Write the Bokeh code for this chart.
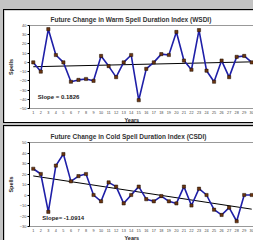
from bokeh.plotting import figure
from bokeh.models import Range1d, FixedTicker, Label, Title, GlobalInlineStyleSheet
from bokeh.layouts import column
from bokeh.embed import file_html
from bokeh.resources import INLINE

years = list(range(1, 31))
wsdi = [0, -10, 36, 8, 0, -21, -19, -18, -20, 7, -4, -16, 0, 8, -41,
        -7, 0, 9, 8, 33, 2, -8, 35, -9, -21, 2, -16, 6, 7, 0]
csdi = [25, 20, -16, 28, 39, 13, 18, 20, 0, -6, 12, 8, -8, 0, 8,
        -4, -6, -1, -6, -8, 8, -10, 6, 0, -14, -19, -12, -25, 0, 0]
wsdi_slope, wsdi_intercept = 0.1826, -4.9
csdi_slope, csdi_intercept = -1.0914, 19.25
wsdi_yticks = [40, 30, 20, 10, 0, -10, -20, -30, -40, -50]
csdi_yticks = [50, 40, 30, 20, 10, 0, -10, -20, -30]
wsdi_title = "Future Change in Warm Spell Duration Index (WSDI)"
csdi_title = "Future Change in Cold Spell Duration Index (CSDI)"
wsdi_slope_text = "Slope = 0.1826"
csdi_slope_text = "Slope= -1.0914"

FONT = "Liberation Sans"


def make(title, values, slope, intercept, yticks, slope_text,
         height, top_b, bot_b, slope_x, slope_y, margin):
    p = figure(width=253, height=height, output_backend="svg", toolbar_location=None,
               x_range=Range1d(0.5, 30.5), y_range=Range1d(min(yticks), max(yticks)),
               min_border_left=25, min_border_right=2, min_border_top=top_b,
               min_border_bottom=bot_b, background_fill_color="white",
               border_fill_color="white", outline_line_color="#999999",
               outline_line_width=1)
    p.margin = margin
    p.styles = {"border-top": "1px solid #000", "border-left": "1px solid #000",
                "border-bottom": "1px solid #000"}
    p.grid.visible = False
    # title
    p.title.text = title
    p.title.text_font = FONT
    p.title.text_font_size = "6.5px"
    p.title.text_font_style = "bold"
    p.title.text_color = "#333333"
    p.title.align = "left"
    p.title.offset = 21
    p.title.standoff = 6
    # axes
    p.yaxis.ticker = FixedTicker(ticks=yticks)
    p.yaxis.axis_line_color = "black"
    p.yaxis.major_tick_out = 2
    p.yaxis.major_tick_in = 0
    p.yaxis.minor_tick_line_color = None
    p.yaxis.major_label_text_font = FONT
    p.yaxis.major_label_text_font_size = "4px"
    p.yaxis.major_label_text_color = "#444444"
    p.yaxis.major_label_standoff = 1
    p.yaxis.axis_label = "Spells"
    p.yaxis.axis_label_text_font = FONT
    p.yaxis.axis_label_text_font_size = "5.5px"
    p.yaxis.axis_label_text_font_style = "bold"
    p.yaxis.axis_label_text_color = "#222222"
    p.yaxis.axis_label_standoff = 3
    p.xaxis.ticker = FixedTicker(ticks=years)
    p.xaxis.axis_line_color = "#999999"
    p.xaxis.major_tick_out = 0
    p.xaxis.major_tick_in = 0
    p.xaxis.minor_tick_line_color = None
    p.xaxis.major_label_text_font = FONT
    p.xaxis.major_label_text_font_size = "3.8px"
    p.xaxis.major_label_text_color = "#444444"
    p.xaxis.major_label_standoff = 2
    p.add_layout(Title(text="Years", text_font=FONT, text_font_size="5.5px",
                       text_font_style="bold", text_color="#222222",
                       align="left", offset=95, standoff=0,
                       vertical_align="top"), "below")
    # trend
    tx = [years[0], years[-1]]
    ty = [intercept + slope * x for x in tx]
    p.line(tx, ty, line_color="black", line_width=1)
    # series
    p.line(years, values, line_color="#1f1fa8", line_width=1.6)
    p.scatter(years, values, marker="square", size=3.2, fill_color="#6b3510",
              line_color="#1a0d00", line_width=0.5)
    # slope text
    p.add_layout(Label(x=slope_x, y=slope_y, text=slope_text, text_font=FONT,
                       text_font_size="6px", text_font_style="bold",
                       text_color="#222222", text_align="left",
                       text_baseline="middle"))
    return p


top = make(wsdi_title, wsdi, wsdi_slope, wsdi_intercept, wsdi_yticks, wsdi_slope_text,
           114, 15, 15, 1.6, -37.6, (9, 0, 0, 3))
bot = make(csdi_title, csdi, csdi_slope, csdi_intercept, csdi_yticks, csdi_slope_text,
           118, 16, 18, 2.2, -22, (2, 0, 0, 3))

layout = column(top, bot)
layout.stylesheets = [GlobalInlineStyleSheet(
    css="html,body{margin:0 !important;padding:0;background:#c3c3c3;overflow:hidden;}")]

open("out.html", "w").write(file_html(layout, INLINE))
